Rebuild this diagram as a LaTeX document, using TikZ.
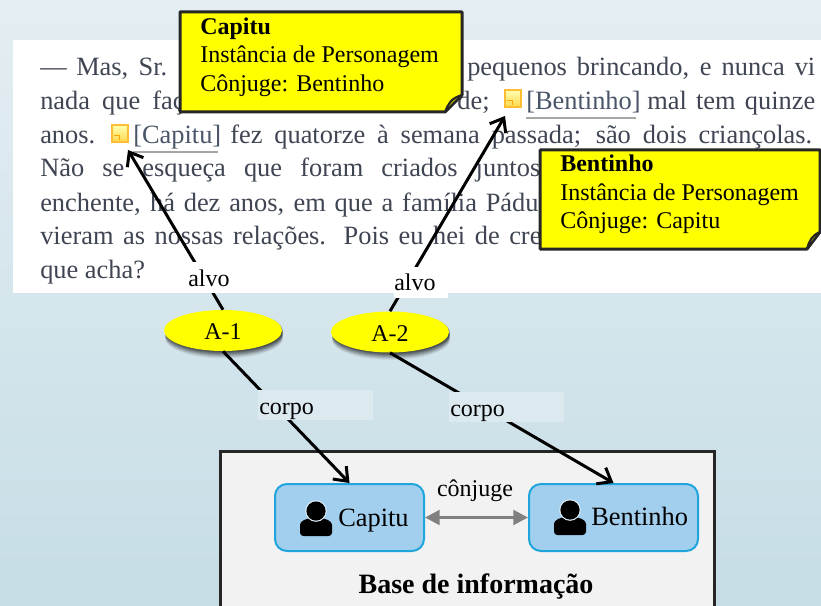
\documentclass[tikz,border=0pt]{standalone}
\usepackage{fontspec}
\setmainfont{Liberation Serif}
\usetikzlibrary{arrows.meta,shapes.geometric}
\newdimen\pxu \pxu=0.75pt
\definecolor{bodyc}{HTML}{3F4552}
\definecolor{linkc}{HTML}{4A5568}
\definecolor{calloutc}{HTML}{FFFF00}
\definecolor{foldc}{HTML}{A6A600}
\definecolor{edgec}{HTML}{262626}
\definecolor{personbox}{HTML}{A3CFEE}
\definecolor{personedge}{HTML}{1FA5DC}
\definecolor{palelabel}{HTML}{DCE9EE}
\definecolor{bgtop}{HTML}{E4EEF2}
\definecolor{bgbottom}{HTML}{C6DDE6}
\tikzset{
  x=0.75pt,y=-0.75pt,
  bodytext/.style={anchor=base west,inner sep=0pt,text=bodyc,font=\fontsize{19.8}{22}\selectfont},
  calloutbody/.style={draw=edgec,line width=2.25pt,fill=calloutc,line join=round},
  foldshape/.style={draw=edgec,line width=1.5pt,fill=foldc,line join=round},
  callouttext/.style={anchor=north west,inner sep=0pt,align=left,font=\fontsize{18}{21.4}\selectfont},
  barb/.style={draw=black,line width=2.25pt,-{Straight Barb[length=9pt,width=14pt,line width=2.25pt]}},
  labelbox/.style={anchor=north west,inner sep=0pt,font=\fontsize{18}{20}\selectfont},
  oval/.style={ellipse,fill=calloutc,minimum width=118\pxu,minimum height=41\pxu,inner sep=0pt,font=\fontsize{18}{20}\selectfont},
  personnode/.style={draw=personedge,line width=1.5pt,fill=personbox,rounded corners=9pt,inner sep=0pt},
  persontext/.style={anchor=west,inner sep=0pt,font=\fontsize{19.8}{22}\selectfont},
  iconsq/.style={draw=orange!65!yellow!80!white,line width=1pt,top color=yellow!30!white,bottom color=orange!45!yellow!70!white},
}
\newcommand{\jline}[5]{\node[bodytext] (#1) at (#2,#3) {\makebox[#4\pxu][s]{#5}};}
\newcommand{\dropby}[2]{\raisebox{-#1}[\height][\depth]{#2}}
\newcommand{\personicon}[2]{%
  \fill[black,rounded corners=2.5pt] (#1-16,#2+25) -- (#1-16,#2+17) .. controls (#1-16,#2+10) and (#1-9,#2+7) .. (#1,#2+7) .. controls (#1+9,#2+7) and (#1+16,#2+10) .. (#1+16,#2+17) -- (#1+16,#2+25) -- cycle;
  \fill[white!60!personbox] (#1,#2) circle[radius=10.8\pxu];
  \fill[black] (#1,#2) circle[radius=9.6\pxu];}
\newcommand{\flagicon}[2]{%
  \path[iconsq] (#1,#2) rectangle (#1+16,#2+17);
  \draw[orange!70!yellow,line width=.6pt] (#1+2,#2+10) -- (#1+7,#2+10) -- (#1+7,#2+15);}
\begin{document}
\begin{tikzpicture}
\useasboundingbox (0,0) rectangle (821,606);
\clip (0,0) rectangle (821,606);
\shade[top color=bgtop,bottom color=bgbottom] (0,0) rectangle (821,606);
\fill[white] (13,40) rectangle (821,293);

% body text
\jline{l1a}{40}{76}{127}{— Mas, Sr.}
\jline{l1b}{467}{76}{348}{pequenos brincando, e nunca vi}
\jline{l2a}{40}{110}{156}{nada que faça}
\node[bodytext,anchor=base east] (l2b) at (490,110) {de;};
\node[bodytext,text=linkc] (l2c) at (526,110) {[Bentinho]};
\jline{l2d}{647}{110}{168}{mal tem quinze}
\node[bodytext] (l3a) at (40,143.5) {anos.};
\node[bodytext,text=linkc] (l3b) at (133,143.5) {[Capitu]};
\jline{l3c}{230}{143.5}{582}{fez quatorze à semana passada; são dois criançolas.}
\jline{l4}{40}{177}{500}{Não se esqueça que foram criados juntos}
\jline{l5}{40}{211}{510}{enchente, há dez anos, em que a família Pádua}
\jline{l6}{40}{244.5}{510}{vieram as nossas relações. Pois eu hei de crer}
\node[bodytext] (l7) at (40,278) {que acha?};

% links and icons
\draw[gray!70,line width=1.2pt] (133,152) -- (218,152);
\draw[gray!70,line width=1.2pt] (526,118) -- (636,118);
\flagicon{112}{125}
\flagicon{505}{90}
\coordinate (tgtc) at (128,150);
\coordinate (tgtb) at (505,116);

% ellipses
\foreach \o/\s in {.20/0,.18/1,.16/2,.14/3,.12/4,.10/5,.08/6,.06/7}{
  \fill[black,opacity=\o] (224,331+\s) ellipse[x radius=59,y radius=20.5];
  \fill[black,opacity=\o] (391,332.5+\s) ellipse[x radius=59,y radius=20.5];
}
\node[oval] (a1) at (223,330.5) {\dropby{.75pt}{A-1}};
\node[oval] (a2) at (390,332) {\dropby{1.5pt}{A-2}};

% base box
\node[draw=edgec,line width=2.25pt,fill=black!5,anchor=north west,inner sep=0pt,outer sep=0pt,minimum width=494\pxu,minimum height=175\pxu] (base) at (220,451) {};
\node[personnode,minimum width=149\pxu,minimum height=67\pxu] (capitu) at (349.5,517.5) {};
\node[personnode,minimum width=169\pxu,minimum height=67\pxu] (bentinho) at (613.5,517.5) {};
\personicon{316}{511}
\personicon{570}{510}
\node[persontext] (captxt) at (338,517) {\dropby{3pt}{Capitu}};
\node[persontext] (bentxt) at (591,516) {Bentinho};
\node[inner sep=0pt,font=\fontsize{18}{20}\selectfont] (conj) at (475,491) {cônjuge};
\draw[draw=black!50,line width=2.25pt,{Triangle[length=11pt,width=11pt]}-{Triangle[length=11pt,width=11pt]}] (capitu.east) -- (bentinho.west);
\node[inner sep=0pt,font=\bfseries\fontsize{21}{24}\selectfont] (basetxt) at (476,587) {Base de informação};

% connectors
\draw[barb] (a1.north) -- (tgtc);
\draw[barb] (a2.north) -- (tgtb);
\draw[barb] (a1.south) -- (capitu.north);
\draw[barb] (a2.south) -- (bentinho.north);

% labels on connectors
\node[labelbox,fill=white,text width=54\pxu,minimum height=31\pxu] (alvo1) at (188,262) {\dropby{.75pt}{alvo}};
\node[labelbox,fill=white,text width=54\pxu,minimum height=31\pxu] (alvo2) at (394,267) {alvo};
\node[labelbox,fill=palelabel,text width=115\pxu,minimum height=30\pxu] (corpo1) at (258,390) {\hspace{.75pt}\dropby{4.5pt}{corpo}};
\node[labelbox,fill=palelabel,text width=115\pxu,minimum height=30\pxu] (corpo2) at (449,392) {\hspace{.75pt}\dropby{4.5pt}{corpo}};

% callouts
\draw[calloutbody] (180,12) -- (462,12) -- (462,95) -- (445,112) -- (180,112) -- cycle;
\draw[foldshape] (445,112) .. controls (448,104) and (451,98) .. (462,95) -- cycle;
\node[callouttext] (callc) at (200,17.5) {\textbf{Capitu}\\Instância de Personagem\\Cônjuge: Bentinho};
\draw[calloutbody] (540,150) -- (820,150) -- (820,232) -- (807,249) -- (540,249) -- cycle;
\draw[foldshape] (807,249) .. controls (809,241) and (812,235) .. (820,232) -- cycle;
\node[callouttext] (callb) at (560,155) {\textbf{Bentinho}\\Instância de Personagem\\Cônjuge: Capitu};
\end{tikzpicture}
\end{document}
